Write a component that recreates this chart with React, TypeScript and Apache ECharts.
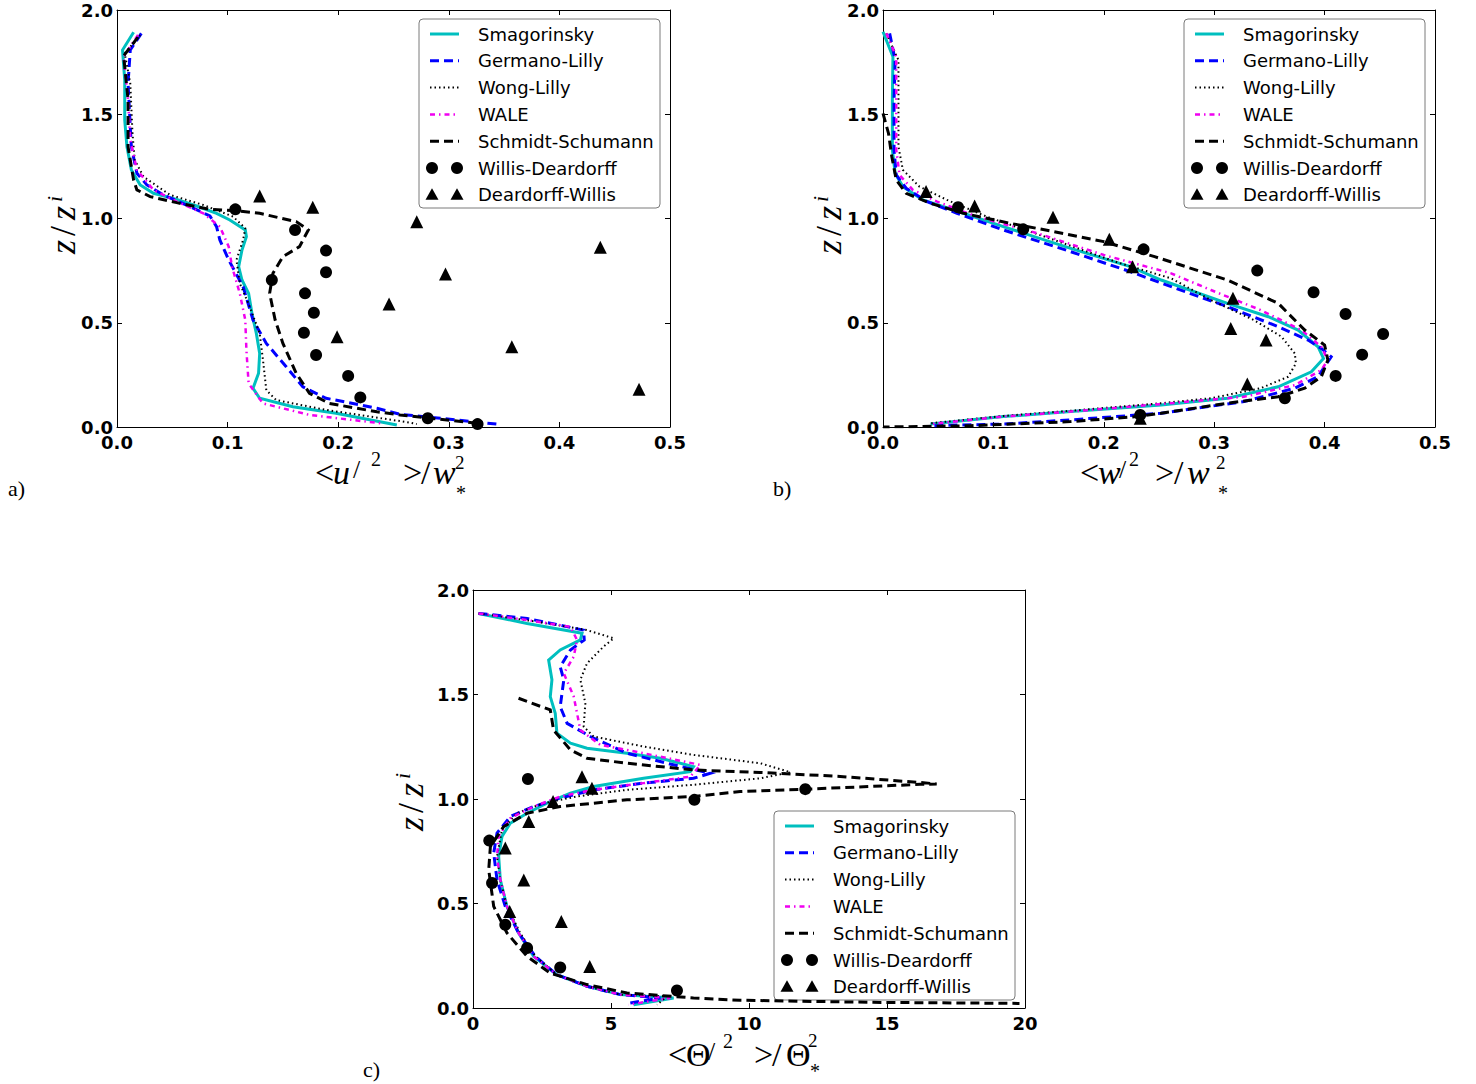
import React, { useEffect, useRef } from "react";
import * as echarts from "echarts";

type P = [number, number];

// ---------- Legend names ----------
const modelNames = [
  "Smagorinsky",
  "Germano-Lilly",
  "Wong-Lilly",
  "WALE",
  "Schmidt-Schumann",
  "Willis-Deardorff",
  "Deardorff-Willis",
];

// ---------- Ticks ----------
const zTicks = [0, 0.5, 1.0, 1.5, 2.0];
const velTicks = [0, 0.1, 0.2, 0.3, 0.4, 0.5];
const thetaTicks = [0, 5, 10, 15, 20];

// ---------- Panel a: <u'^2>/w*^2 ----------
const aSmag: P[] = [[0.015,1.893],[0.005,1.808],[0.007,1.664],[0.007,1.472],[0.009,1.344],[0.013,1.233],[0.021,1.161],[0.033,1.121],[0.054,1.092],[0.072,1.060],[0.090,1.025],[0.102,0.993],[0.116,0.945],[0.117,0.913],[0.113,0.849],[0.110,0.769],[0.113,0.705],[0.119,0.641],[0.122,0.545],[0.126,0.449],[0.129,0.353],[0.128,0.258],[0.123,0.186],[0.129,0.138],[0.159,0.097],[0.198,0.066],[0.253,0.010]];
const aGerm: P[] = [[0.022,1.888],[0.012,1.808],[0.010,1.648],[0.012,1.440],[0.013,1.344],[0.018,1.217],[0.027,1.161],[0.042,1.113],[0.066,1.057],[0.084,1.012],[0.090,0.961],[0.093,0.897],[0.101,0.801],[0.114,0.673],[0.123,0.513],[0.135,0.401],[0.153,0.289],[0.168,0.193],[0.189,0.138],[0.235,0.090],[0.256,0.061],[0.301,0.037],[0.343,0.014]];
const aWong: P[] = [[0.021,1.880],[0.007,1.792],[0.012,1.648],[0.014,1.408],[0.016,1.281],[0.024,1.200],[0.048,1.113],[0.078,1.065],[0.105,1.009],[0.116,0.953],[0.114,0.897],[0.108,0.801],[0.111,0.689],[0.120,0.577],[0.129,0.449],[0.132,0.321],[0.135,0.177],[0.144,0.129],[0.189,0.082],[0.265,0.021],[0.271,0.014]];
const aWale: P[] = [[0.019,1.880],[0.006,1.776],[0.010,1.568],[0.012,1.376],[0.018,1.233],[0.033,1.137],[0.054,1.081],[0.078,1.025],[0.093,0.961],[0.101,0.865],[0.104,0.769],[0.111,0.641],[0.116,0.513],[0.117,0.369],[0.119,0.209],[0.132,0.113],[0.174,0.058],[0.238,0.018]];
const aSchm: P[] = [[0.019,1.870],[0.006,1.780],[0.010,1.570],[0.010,1.344],[0.015,1.185],[0.018,1.137],[0.030,1.105],[0.054,1.076],[0.084,1.044],[0.108,1.037],[0.129,1.025],[0.162,0.985],[0.173,0.945],[0.165,0.865],[0.150,0.817],[0.141,0.737],[0.138,0.641],[0.143,0.513],[0.150,0.401],[0.162,0.258],[0.174,0.162],[0.192,0.113],[0.235,0.073],[0.256,0.058],[0.283,0.042],[0.325,0.018]];
const aWillis: P[] = [[0.107,1.044],[0.161,0.945],[0.189,0.846],[0.189,0.742],[0.140,0.705],[0.170,0.641],[0.178,0.548],[0.169,0.452],[0.180,0.345],[0.209,0.245],[0.220,0.142],[0.281,0.042],[0.326,0.014]];
const aDeard: P[] = [[0.129,1.108],[0.177,1.054],[0.271,0.985],[0.437,0.862],[0.297,0.734],[0.246,0.590],[0.199,0.433],[0.357,0.385],[0.472,0.181]];

// ---------- Panel b: <w'^2>/w*^2 ----------
const bSmag: P[] = [[0.000,1.896],[0.009,1.776],[0.0085,1.568],[0.0085,1.329],[0.011,1.217],[0.018,1.153],[0.036,1.089],[0.064,1.041],[0.109,0.961],[0.170,0.857],[0.224,0.769],[0.252,0.705],[0.312,0.593],[0.349,0.529],[0.376,0.465],[0.394,0.385],[0.399,0.329],[0.388,0.265],[0.358,0.193],[0.312,0.138],[0.252,0.106],[0.170,0.074],[0.109,0.050],[0.043,0.014]];
const bGerm: P[] = [[0.006,1.888],[0.011,1.760],[0.010,1.568],[0.010,1.329],[0.012,1.209],[0.021,1.145],[0.040,1.081],[0.067,1.025],[0.109,0.945],[0.170,0.841],[0.224,0.745],[0.261,0.673],[0.312,0.577],[0.358,0.481],[0.385,0.417],[0.397,0.377],[0.406,0.337],[0.400,0.289],[0.394,0.241],[0.373,0.186],[0.327,0.122],[0.252,0.066],[0.170,0.034],[0.109,0.014],[0.042,0.006]];
const bWong: P[] = [[0.003,1.888],[0.014,1.760],[0.014,1.568],[0.014,1.344],[0.018,1.233],[0.033,1.153],[0.058,1.089],[0.094,1.009],[0.155,0.897],[0.215,0.785],[0.261,0.713],[0.297,0.609],[0.336,0.513],[0.361,0.433],[0.373,0.353],[0.374,0.305],[0.367,0.241],[0.342,0.186],[0.297,0.138],[0.252,0.114],[0.170,0.078],[0.109,0.053],[0.043,0.018]];
const bWale: P[] = [[0.003,1.888],[0.012,1.776],[0.012,1.568],[0.012,1.329],[0.015,1.209],[0.027,1.137],[0.049,1.081],[0.085,1.009],[0.140,0.929],[0.200,0.825],[0.261,0.737],[0.297,0.657],[0.342,0.561],[0.379,0.465],[0.397,0.385],[0.403,0.321],[0.397,0.273],[0.373,0.201],[0.327,0.145],[0.252,0.110],[0.170,0.074],[0.109,0.050],[0.043,0.014]];
const bSchm: P[] = [[0.000,1.504],[0.005,1.408],[0.008,1.296],[0.012,1.185],[0.021,1.121],[0.043,1.073],[0.073,1.025],[0.115,0.977],[0.155,0.937],[0.200,0.889],[0.246,0.817],[0.312,0.705],[0.358,0.593],[0.382,0.465],[0.400,0.393],[0.403,0.321],[0.397,0.241],[0.382,0.186],[0.358,0.145],[0.312,0.114],[0.252,0.066],[0.230,0.050],[0.170,0.026],[0.079,0.006],[0.000,0.000]];
const bWillis: P[] = [[0.068,1.054],[0.127,0.948],[0.236,0.852],[0.339,0.750],[0.390,0.646],[0.419,0.542],[0.453,0.446],[0.434,0.347],[0.410,0.245],[0.364,0.138],[0.233,0.058]];
const bDeard: P[] = [[0.039,1.129],[0.083,1.060],[0.154,1.006],[0.205,0.900],[0.226,0.769],[0.317,0.617],[0.315,0.473],[0.347,0.417],[0.330,0.206],[0.233,0.042]];

// ---------- Panel c: <Theta'^2>/Theta*^2 ----------
const cSmag: P[] = [[0.2,1.888],[1.96,1.840],[3.95,1.793],[3.89,1.761],[3.16,1.713],[2.74,1.665],[2.86,1.570],[2.80,1.490],[2.98,1.410],[3.04,1.315],[3.53,1.267],[4.13,1.243],[5.58,1.219],[6.79,1.195],[7.99,1.155],[7.87,1.131],[6.18,1.099],[4.37,1.060],[3.53,1.028],[2.80,0.988],[1.96,0.932],[1.35,0.884],[1.05,0.821],[0.93,0.725],[0.99,0.613],[1.23,0.486],[1.65,0.359],[2.20,0.247],[3.04,0.159],[4.13,0.104],[5.34,0.064],[7.27,0.048],[5.82,0.016]];
const cGerm: P[] = [[0.2,1.888],[1.96,1.864],[4.01,1.808],[4.03,1.761],[3.53,1.713],[3.16,1.633],[3.29,1.570],[3.16,1.442],[3.41,1.362],[4.25,1.299],[5.58,1.219],[7.03,1.171],[8.60,1.123],[7.99,1.099],[6.18,1.076],[4.37,1.044],[3.16,1.004],[2.20,0.964],[1.35,0.916],[0.87,0.837],[0.75,0.741],[0.87,0.613],[1.17,0.486],[1.65,0.359],[2.26,0.247],[3.04,0.159],[4.13,0.104],[5.34,0.064],[6.79,0.048],[5.70,0.024]];
const cWong: P[] = [[0.2,1.888],[2.32,1.848],[4.13,1.808],[5.10,1.769],[4.73,1.729],[4.13,1.649],[3.89,1.570],[4.07,1.458],[4.01,1.346],[4.37,1.299],[6.18,1.251],[7.99,1.211],[10.41,1.171],[11.50,1.128],[10.41,1.099],[7.99,1.068],[5.58,1.044],[3.77,1.012],[2.56,0.980],[1.59,0.932],[1.05,0.853],[0.87,0.725],[0.99,0.613],[1.23,0.486],[1.71,0.359],[2.26,0.247],[3.04,0.159],[4.13,0.104],[5.34,0.064],[7.03,0.056],[6.67,0.016]];
const cWale: P[] = [[0.2,1.888],[1.96,1.856],[3.53,1.824],[3.77,1.761],[3.65,1.681],[3.29,1.601],[3.65,1.490],[3.77,1.410],[3.89,1.330],[4.61,1.259],[6.18,1.219],[8.24,1.163],[7.87,1.107],[6.18,1.076],[4.37,1.044],[3.16,1.012],[2.20,0.964],[1.35,0.908],[0.93,0.821],[0.87,0.725],[0.99,0.613],[1.23,0.486],[1.65,0.359],[2.20,0.247],[3.04,0.159],[4.13,0.104],[5.34,0.064],[7.15,0.048],[5.64,0.016]];
const cSchm: P[] = [[1.65,1.482],[2.80,1.426],[2.92,1.330],[3.53,1.235],[4.13,1.195],[5.58,1.171],[7.99,1.139],[10.41,1.127],[13.3,1.108],[16.2,1.079],[16.8,1.072],[16.2,1.070],[12.04,1.047],[9.68,1.036],[7.99,1.012],[5.58,0.996],[3.16,0.964],[1.96,0.932],[1.11,0.868],[0.63,0.773],[0.57,0.661],[0.75,0.486],[1.23,0.359],[1.96,0.247],[2.80,0.167],[4.13,0.112],[5.58,0.072],[7.99,0.048],[9.68,0.037],[14.5,0.027],[19.8,0.022]];
const cWillis: P[] = [[1.99,1.096],[8.02,0.996],[12.04,1.047],[0.59,0.801],[0.69,0.598],[1.17,0.398],[1.96,0.287],[3.16,0.194],[7.39,0.084]];
const cDeard: P[] = [[3.95,1.107],[4.31,1.052],[2.90,0.988],[2.02,0.892],[1.17,0.765],[1.84,0.613],[1.33,0.462],[3.20,0.414],[4.23,0.199]];

// ---------- Styling ----------
const SANS = "'DejaVu Sans', 'Bitstream Vera Sans', sans-serif";
const MATH = "'Liberation Serif', 'DejaVu Serif', serif";
const CYAN = "#00BFBF";
const BLUE = "#0000FF";
const MAGENTA = "#F000F0";
const BLACK = "#000000";

const lineStyles = [
  { color: CYAN, width: 3, type: "solid" as any },
  { color: BLUE, width: 3, type: [9, 5] as any },
  { color: BLACK, width: 2, type: [1.5, 3] as any },
  { color: MAGENTA, width: 2.5, type: [5, 4, 1.5, 4] as any },
  { color: BLACK, width: 3, type: [9, 5] as any },
];

const grids = [
  { left: 117, top: 10, width: 553, height: 417 },
  { left: 883, top: 10, width: 552, height: 417 },
  { left: 473, top: 590, width: 552, height: 418 },
];

function buildAxes() {
  const xAxis: any[] = [];
  const yAxis: any[] = [];
  const ranges = [
    { ticks: velTicks, fmt: (v: number) => v.toFixed(1) },
    { ticks: velTicks, fmt: (v: number) => v.toFixed(1) },
    { ticks: thetaTicks, fmt: (v: number) => String(Math.round(v)) },
  ];
  ranges.forEach((r, g) => {
    const xmin = r.ticks[0];
    const xmax = r.ticks[r.ticks.length - 1];
    const xint = r.ticks[1] - r.ticks[0];
    const base = {
      gridIndex: g,
      type: "value",
      splitLine: { show: false },
      axisLine: { show: true, onZero: false, lineStyle: { color: "#000", width: 1 } },
      axisTick: { show: true, inside: true, length: 5, lineStyle: { color: "#000", width: 1 } },
    };
    const lbl = {
      margin: 6,
      color: "#000",
      fontSize: 18,
      fontWeight: "bold",
      fontFamily: SANS,
    };
    xAxis.push({ ...base, position: "bottom", min: xmin, max: xmax, interval: xint, axisLabel: { ...lbl, formatter: r.fmt } });
    xAxis.push({ ...base, position: "top", min: xmin, max: xmax, interval: xint, axisLabel: { show: false } });
    yAxis.push({ ...base, position: "left", min: zTicks[0], max: zTicks[zTicks.length - 1], interval: 0.5, axisLabel: { ...lbl, margin: 4, formatter: (v: number) => v.toFixed(1) } });
    yAxis.push({ ...base, position: "right", min: zTicks[0], max: zTicks[zTicks.length - 1], interval: 0.5, axisLabel: { show: false } });
  });
  return { xAxis, yAxis };
}

function panelSeries(g: number, lines: P[][], willis: P[], deard: P[]) {
  const s: any[] = [];
  lines.forEach((d, i) => {
    s.push({
      type: "line",
      name: modelNames[i],
      data: d,
      xAxisIndex: 2 * g,
      yAxisIndex: 2 * g,
      showSymbol: false,
      symbol: "none",
      smooth: false,
      silent: true,
      lineStyle: { ...lineStyles[i], cap: "butt", join: "miter" },
      z: 2 + i * 0.01,
    });
  });
  s.push({
    type: "scatter",
    name: modelNames[5],
    data: willis,
    xAxisIndex: 2 * g,
    yAxisIndex: 2 * g,
    symbol: "circle",
    symbolSize: 12,
    itemStyle: { color: "#000", opacity: 1 },
    silent: true,
    z: 3,
  });
  s.push({
    type: "scatter",
    name: modelNames[6],
    data: deard,
    xAxisIndex: 2 * g,
    yAxisIndex: 2 * g,
    symbol: "triangle",
    symbolSize: 13,
    itemStyle: { color: "#000", opacity: 1 },
    silent: true,
    z: 3,
  });
  return s;
}

function legendGroup(x0: number, y0: number) {
  const children: any[] = [
    {
      type: "rect",
      shape: { x: 0, y: 0, width: 241, height: 189, r: 4 },
      style: { fill: "#fff", stroke: "#7a7a7a", lineWidth: 1 },
    },
  ];
  modelNames.forEach((name, i) => {
    const y = 15 + i * 26.8;
    if (i < 5) {
      const ls = lineStyles[i];
      children.push({
        type: "line",
        shape: { x1: 11, y1: y, x2: 40, y2: y },
        style: {
          stroke: ls.color,
          lineWidth: ls.width,
          lineDash: Array.isArray(ls.type) ? ls.type : null,
        },
      });
    } else if (i === 5) {
      [13, 38].forEach((cx) =>
        children.push({ type: "circle", shape: { cx, cy: y, r: 6 }, style: { fill: "#000" } })
      );
    } else {
      [13, 38].forEach((cx) =>
        children.push({
          type: "polygon",
          shape: { points: [[cx, y - 6.5], [cx + 6.5, y + 5], [cx - 6.5, y + 5]] },
          style: { fill: "#000" },
        })
      );
    }
    children.push({
      type: "text",
      x: 59,
      y,
      style: { text: name, font: `18px ${SANS}`, fill: "#000", textVerticalAlign: "middle" },
    });
  });
  return { type: "group", x: x0, y: y0, z: 100, children };
}

function mt(x: number, y: number, text: string, size: number, italic = false) {
  return {
    type: "text",
    x,
    y,
    z: 100,
    style: {
      text,
      font: `${italic ? "italic " : ""}${size}px ${MATH}`,
      fill: "#000",
      textVerticalAlign: "middle",
    },
  };
}

// x-axis titles: <q'^2 >/Q*^2
function xTitle(pos: number[], y: number, letter: string, italicLetter: boolean, big: string, italicBig: boolean, sup2Dy: number, starDy: number) {
  const [l, q, pr, s1, gt, sl, w, s2, st] = pos;
  return [
    mt(l, y, "<", 34),
    mt(q, y, letter, 34, italicLetter),
    mt(pr, y - 3, "/", 26),
    mt(s1, y - 13, "2", 20),
    mt(gt, y, ">", 34),
    mt(sl, y, "/", 34),
    mt(w, y, big, 34, italicBig),
    mt(s2, y + sup2Dy, "2", 19),
    mt(st, y + starDy, "*", 20),
  ];
}

function yTitle(cx: number, startY: number) {
  return {
    type: "group",
    x: cx,
    y: startY,
    rotation: Math.PI / 2,
    z: 100,
    children: [
      { type: "text", x: 2, y: 0, style: { text: "z", font: `italic 36px ${MATH}`, fill: "#000", textVerticalAlign: "middle" } },
      { type: "text", x: 20, y: 0, style: { text: "/", font: `36px ${MATH}`, fill: "#000", textVerticalAlign: "middle" } },
      { type: "text", x: 36, y: 0, style: { text: "z", font: `italic 36px ${MATH}`, fill: "#000", textVerticalAlign: "middle" } },
      { type: "text", x: 54, y: -9, style: { text: "i", font: `italic 22px ${MATH}`, fill: "#000", textVerticalAlign: "middle" } },
    ],
  };
}

export default function App() {
  const ref = useRef<HTMLDivElement>(null);
  useEffect(() => {
    if (!ref.current) return;
    const chart = echarts.init(ref.current, null, { renderer: "svg" });
    const { xAxis, yAxis } = buildAxes();
    const series = [
      ...panelSeries(0, [aSmag, aGerm, aWong, aWale, aSchm], aWillis, aDeard),
      ...panelSeries(1, [bSmag, bGerm, bWong, bWale, bSchm], bWillis, bDeard),
      ...panelSeries(2, [cSmag, cGerm, cWong, cWale, cSchm], cWillis, cDeard),
    ];
    const graphic: any[] = [
      legendGroup(419, 19),
      legendGroup(1184, 19),
      legendGroup(774, 811),
      ...xTitle([315, 333, 353, 371, 403, 421, 433, 455, 456], 472, "u", true, "w", true, -10, 21),
      ...xTitle([1080, 1098, 1119, 1129, 1155, 1174, 1187, 1216, 1218], 472, "w", true, "w", true, -10, 21),
      ...xTitle([668, 686, 708, 723, 754, 772, 786, 808, 810], 1054, "Θ", false, "Θ", false, -14, 17),
      yTitle(63, 256),
      yTitle(829, 256),
      yTitle(411, 833),
      mt(8, 488, "a)", 22),
      mt(773, 488, "b)", 22),
      mt(363, 1069, "c)", 22),
    ];
    chart.setOption({
      animation: false,
      backgroundColor: "#ffffff",
      grid: grids.map((g) => ({ ...g, containLabel: false, outerBoundsMode: "none" })),
      xAxis,
      yAxis,
      series,
      graphic,
    });
    return () => chart.dispose();
  }, []);
  return (
    <div
      ref={ref}
      style={{ position: "absolute", left: 0, top: 0, width: 1476, height: 1084, background: "#fff" }}
    />
  );
}
